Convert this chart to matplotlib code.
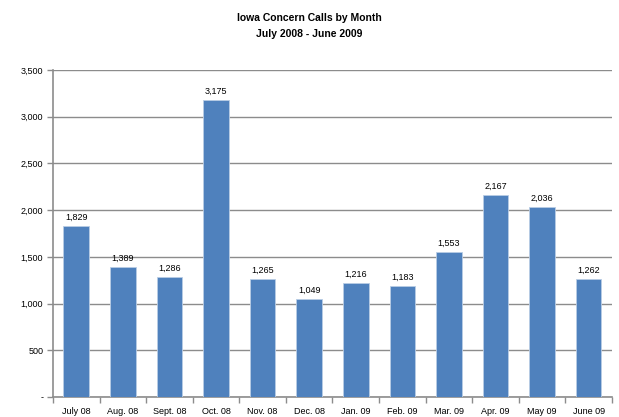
import matplotlib
matplotlib.use("Agg")
import matplotlib.pyplot as plt
from matplotlib.ticker import FuncFormatter, FixedLocator
import numpy as np

months = ["July 08", "Aug. 08", "Sept. 08", "Oct. 08", "Nov. 08", "Dec. 08",
          "Jan. 09", "Feb. 09", "Mar. 09", "Apr. 09", "May 09", "June 09"]
calls = [1829, 1389, 1286, 3175, 1265, 1049, 1216, 1183, 1553, 2167, 2036, 1262]

plt.rcParams['font.family'] = ['Liberation Sans', 'DejaVu Sans']

fig = plt.figure(figsize=(6.19, 4.17), dpi=100)
ax = fig.add_axes([0.0856, 0.048, 0.903, 0.784])

x = np.arange(len(months))
bars = ax.bar(x, calls, width=0.55, color="#4F81BD", edgecolor="#B9CDE5",
              linewidth=0.6, zorder=3)

for xi, v in zip(x, calls):
    ax.text(xi, v + 45, f"{v:,}", ha="center", va="bottom", fontsize=6.5)

ax.set_xlim(-0.5, len(months) - 0.5)
ax.set_ylim(0, 3500)
ax.set_yticks(np.arange(0, 3501, 500))
ax.yaxis.set_major_formatter(FuncFormatter(lambda v, p: "-" if v == 0 else f"{v:,.0f}"))
ax.grid(axis="y", color="#8C8C8C", linewidth=1.0, zorder=0)

ax.set_xticks(x)
ax.set_xticklabels(months)
ax.xaxis.set_minor_locator(FixedLocator(np.arange(-0.5, len(months), 1.0)))
ax.tick_params(axis="x", which="major", length=0, labelsize=6.5, pad=7)
ax.tick_params(axis="x", which="minor", length=4, width=1, color="#8C8C8C", direction="out")
ax.tick_params(axis="y", length=4, width=1, color="#8C8C8C", labelsize=6.5, pad=3)

for side in ["top", "right"]:
    ax.spines[side].set_visible(False)
for side in ["left", "bottom"]:
    ax.spines[side].set_color("#8C8C8C")
    ax.spines[side].set_linewidth(1.2)

fig.text(0.5, 0.957, "Iowa Concern Calls by Month", ha="center", va="center",
         fontsize=7.5, fontweight="bold")
fig.text(0.5, 0.918, "July 2008 - June 2009", ha="center", va="center",
         fontsize=7.5, fontweight="bold")

fig.savefig("out.png", dpi=100)
